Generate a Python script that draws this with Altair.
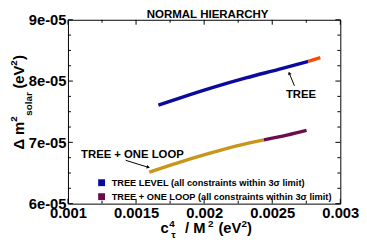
import altair as alt
import pandas as pd

# ---------------- data ----------------
tree_ok_x = [0.001664, 0.001825, 0.002066, 0.002307, 0.002547, 0.002764]
tree_ok_y = [7.608e-5, 7.727e-5, 7.897e-5, 8.052e-5, 8.191e-5, 8.320e-5]
tree_out_x = [0.002764, 0.002853]
tree_out_y = [8.320e-5, 8.381e-5]
loop_out_x = [0.001597, 0.001789, 0.002030, 0.002271, 0.002439]
loop_out_y = [6.515e-5, 6.654e-5, 6.815e-5, 6.959e-5, 7.041e-5]
loop_ok_x = [0.002439, 0.002608, 0.002752]
loop_ok_y = [7.041e-5, 7.118e-5, 7.195e-5]

segments = ["tree_ok", "tree_out", "loop_out", "loop_ok"]
seg_colors = ["#0a0a9e", "#ff4a05", "#c9951a", "#6b0d4c"]

legend_labels = ["TREE LEVEL (all constraints within 3σ  limit)",
                 "TREE + ONE LOOP (all constraints within 3σ limit)"]
legend_colors = ["#0a0a9e", "#6b0d4c"]

x_major = [0.001, 0.0015, 0.002, 0.0025, 0.003]
x_labels = ["0.001", "0.0015", "0.002", "0.0025", "0.003"]
x_minor = [0.00125, 0.00175, 0.00225, 0.00275]
y_major = [6e-5, 7e-5, 8e-5, 9e-5]
y_labels = ["6e-05", "7e-05", "8e-05", "9e-05"]
y_minor = [6.25e-5, 6.5e-5, 6.75e-5, 7.25e-5, 7.5e-5, 7.75e-5, 8.25e-5, 8.5e-5, 8.75e-5]

ann_text = ["TREE", "TREE + ONE LOOP"]
ann_x = [0.002711, 0.001473]
ann_y = [7.717e-5, 6.742e-5]
arrow_tail_x = [0.002663, 0.001424]
arrow_tail_y = [7.922e-5, 6.707e-5]
arrow_head_x = [0.002625, 0.001590]
arrow_head_y = [8.129e-5, 6.592e-5]
arrow_angle = [338, 108]

W, H = 277, 187
FONT = "Liberation Sans"

# ---------------- tables ----------------
rows = []
for seg, xs_, ys_ in [("tree_ok", tree_ok_x, tree_ok_y), ("tree_out", tree_out_x, tree_out_y),
                      ("loop_out", loop_out_x, loop_out_y), ("loop_ok", loop_ok_x, loop_ok_y)]:
    for i, (a, b) in enumerate(zip(xs_, ys_)):
        rows.append({"seg": seg, "x": a, "y": b, "i": i})
lines_df = pd.DataFrame(rows)
legend_df = pd.DataFrame({"label": legend_labels, "x": [tree_ok_x[0]] * 2, "y": [tree_ok_y[0]] * 2})
ann_df = pd.DataFrame({"t": ann_text, "x": ann_x, "y": ann_y})
arrow_df = pd.DataFrame({"x": arrow_tail_x, "y": arrow_tail_y, "x2": arrow_head_x,
                         "y2": arrow_head_y, "a": arrow_angle})

xs = alt.Scale(domain=[x_major[0], x_major[-1]], nice=False, zero=False)
ys = alt.Scale(domain=[y_major[0], y_major[-1]], nice=False, zero=False)

x_expr = "[" + ",".join("'%s'" % s for s in x_labels) + "][round((datum.value - %r) / %r)]" % (
    x_major[0], x_major[1] - x_major[0])
y_expr = "[" + ",".join("'%s'" % s for s in y_labels) + "][round((datum.value - %r) / %r)]" % (
    y_major[0], y_major[1] - y_major[0])

x_axis = alt.Axis(values=x_major, labelExpr=x_expr, title=None, ticks=False, domain=False, grid=False,
                  labelFont=FONT, labelFontWeight="bold", labelFontSize=15, labelColor="black",
                  labelPadding=2, labelFlush=False, labelOverlap=False)
y_axis = alt.Axis(values=y_major, labelExpr=y_expr, title=None, ticks=False, domain=False, grid=False,
                  labelFont=FONT, labelFontWeight="bold", labelFontSize=15, labelColor="black",
                  labelPadding=2, labelFlush=False, labelOverlap=False)


def X(f):
    return alt.X(f, type="quantitative", scale=xs, axis=x_axis)


def Y(f):
    return alt.Y(f, type="quantitative", scale=ys, axis=y_axis)


layers = []

# inner ticks
for vals, ln in [(x_major, 5), (x_minor, 3)]:
    d = pd.DataFrame({"v": vals})
    layers.append(alt.Chart(d).mark_rule(color="black", strokeWidth=1).encode(
        x=X("v"), y=alt.value(H), y2=alt.value(H - ln)))
    layers.append(alt.Chart(d).mark_rule(color="black", strokeWidth=1).encode(
        x=X("v"), y=alt.value(0), y2=alt.value(ln)))
for vals, ln in [(y_major, 5), (y_minor, 3)]:
    d = pd.DataFrame({"v": vals})
    layers.append(alt.Chart(d).mark_rule(color="black", strokeWidth=1).encode(
        y=Y("v"), x=alt.value(0), x2=alt.value(ln)))
    layers.append(alt.Chart(d).mark_rule(color="black", strokeWidth=1).encode(
        y=Y("v"), x=alt.value(W), x2=alt.value(W - ln)))

# curves
layers.append(alt.Chart(lines_df).mark_line(strokeWidth=3.5, interpolate="monotone", strokeCap="butt").encode(
    x=X("x"), y=Y("y"),
    color=alt.Color("seg:N", scale=alt.Scale(domain=segments, range=seg_colors), legend=None),
    order="i:Q"))

# legend carrier (invisible marks)
layers.append(alt.Chart(legend_df).mark_point(shape="square", filled=True, opacity=0).encode(
    x=X("x"), y=Y("y"),
    fill=alt.Fill("label:N", scale=alt.Scale(domain=legend_labels, range=legend_colors),
                  legend=alt.Legend(orient="none", legendX=29.5, legendY=161, direction="vertical",
                                    symbolType="square", symbolSize=49, symbolStrokeWidth=0,
                                    symbolOpacity=1, labelFont=FONT, labelFontSize=9.4,
                                    labelFontWeight="bold", labelColor="black", labelLimit=400,
                                    labelOffset=5.5, rowPadding=3.2, padding=0, title=None))))

# annotations + arrows
layers.append(alt.Chart(ann_df).mark_text(font=FONT, fontWeight="bold", fontSize=11.5, align="center",
                                          baseline="alphabetic", color="black").encode(
    x=X("x"), y=Y("y"), text="t:N"))
layers.append(alt.Chart(arrow_df).mark_rule(color="black", strokeWidth=1).encode(
    x=X("x"), y=Y("y"), x2="x2", y2="y2"))
layers.append(alt.Chart(arrow_df).mark_point(shape="triangle-up", filled=True, size=14, color="black",
                                             opacity=1).encode(
    x=X("x2"), y=Y("y2"), angle=alt.Angle("a:Q", scale=None)))


def txt(s, px, py, size, angle=0, align="left"):
    d = pd.DataFrame({"t": [s]})
    props = dict(font=FONT, fontWeight="bold", fontSize=size, align=align, baseline="alphabetic",
                 color="black")
    if angle:
        props["angle"] = angle
    return alt.Chart(d).mark_text(**props).encode(x=alt.value(px), y=alt.value(py), text="t:N")


# chart title
layers.append(txt("NORMAL HIERARCHY", 142, -1.4, 11.7, align="center"))

# y-axis title pieces (rotated)
layers.append(txt("Δ m", -45, 132, 15, angle=270))
layers.append(txt("2", -51.5, 103.7, 10, angle=270))
layers.append(txt("solar", -37, 97.5, 10, angle=270))
layers.append(txt("(eV", -45, 70, 15, angle=270))
layers.append(txt("2", -51.5, 46.7, 10, angle=270))
layers.append(txt(")", -45, 41, 15, angle=270))

# x-axis title pieces
layers.append(txt("c", 94, 217, 15))
layers.append(txt("4", 103, 210.5, 10))
layers.append(txt("τ", 105, 221.5, 10))
layers.append(txt("/ M", 119, 217, 15))
layers.append(txt("2", 142.5, 210.5, 10))
layers.append(txt("(eV", 153, 217, 15))
layers.append(txt("2", 176.5, 210.5, 10))
layers.append(txt(")", 182, 217, 15))

chart = alt.layer(*layers).resolve_scale(color="independent", fill="independent").properties(
    width=W, height=H, autosize="none",
    padding={"left": 61, "top": 10, "right": 19, "bottom": 35},
).configure_view(stroke="black", strokeWidth=1)

chart.save("out.html", embed_options={"renderer": "svg", "actions": False})
